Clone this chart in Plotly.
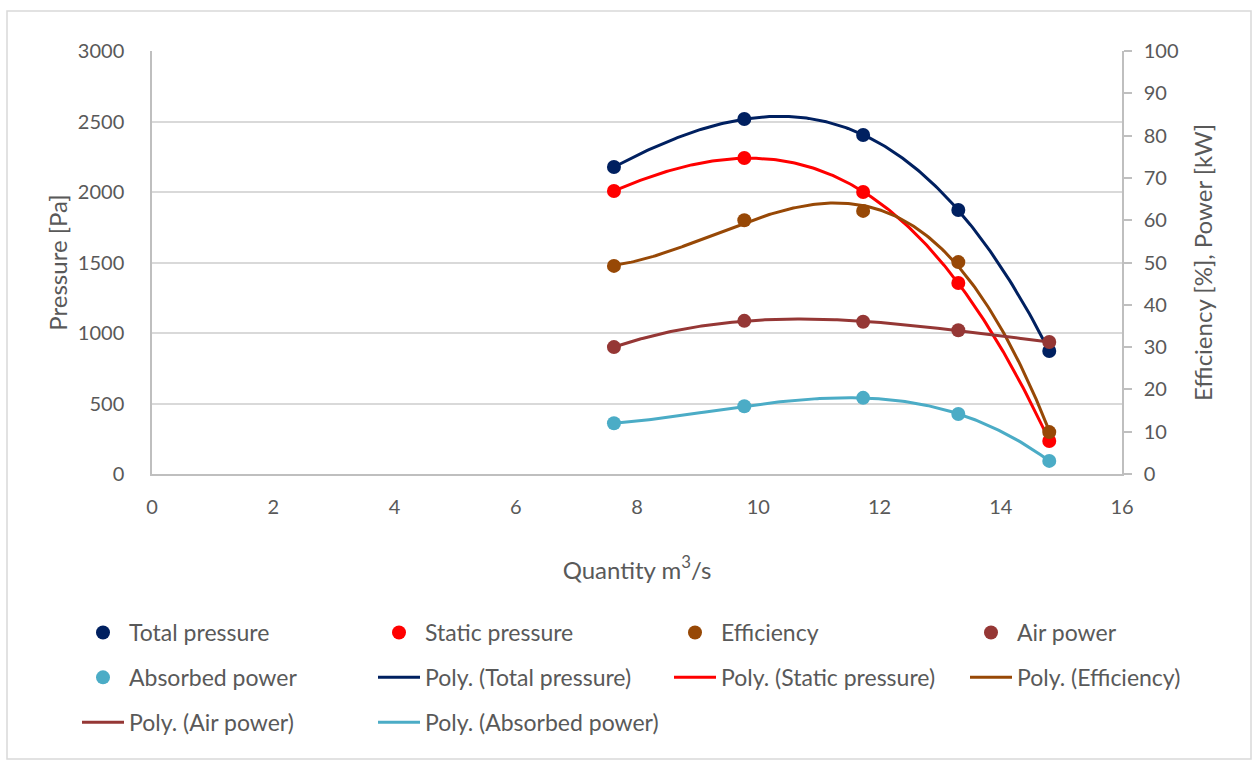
import numpy as np
import plotly.graph_objects as go

# Measured fan performance
quantity = [7.62, 9.77, 11.73, 13.30, 14.80]          # m3/s
total_pressure = [2177, 2518, 2404, 1872, 872]        # Pa
static_pressure = [2007, 2241, 2000, 1355, 234]       # Pa
efficiency = [49.2, 60.0, 62.2, 50.1, 9.9]            # %
air_power = [30.0, 36.2, 36.0, 34.0, 31.2]            # kW
absorbed_power = [12.0, 16.0, 18.0, 14.2, 3.1]        # kW

x_ticks = list(range(0, 17, 2))
pressure_ticks = list(range(0, 3001, 500))
right_ticks = list(range(0, 101, 10))

FONT = "Lato"
TXT = "#595959"
FS_TICK = 20
FS_TITLE = 24
FS_LEG = 23

series = [
    # name, values, colour, axis, legend for markers, legend for trendline
    ("Total pressure", total_pressure, "#002060", "y", "legend", "legend2"),
    ("Static pressure", static_pressure, "#FF0000", "y", "legend2", "legend3"),
    ("Efficiency", efficiency, "#974806", "y2", "legend3", "legend4"),
    ("Air power", air_power, "#953735", "y2", "legend4", "legend"),
    ("Absorbed power", absorbed_power, "#4BACC6", "y2", "legend", "legend2"),
]
marker_rank = {"Total pressure": 1, "Static pressure": 1, "Efficiency": 1,
               "Air power": 1, "Absorbed power": 2}
line_rank = {"Total pressure": 2, "Static pressure": 2, "Efficiency": 2,
             "Air power": 3, "Absorbed power": 3}

fig = go.Figure()
xq = np.array(quantity, dtype=float)
xs = np.linspace(xq.min(), xq.max(), 200)

# polynomial (order 3) trendlines
for name, vals, col, ax, lg_m, lg_l in series:
    coef = np.polyfit(xq, np.array(vals, dtype=float), 3)
    fig.add_trace(go.Scatter(
        x=xs, y=np.polyval(coef, xs), mode="lines", yaxis=ax,
        name=f"Poly. ({name})", line=dict(color=col, width=3),
        legend=lg_l, legendrank=line_rank[name], legendgroup="p_" + name,
        hoverinfo="skip"))

for name, vals, col, ax, lg_m, lg_l in series:
    fig.add_trace(go.Scatter(
        x=quantity, y=vals, mode="markers", yaxis=ax, name=name,
        marker=dict(color=col, size=14),
        legend=lg_m, legendrank=marker_rank[name], legendgroup="m_" + name))

L, R, T, B = 152, 131, 51, 286
W, H = 1253, 760
pw, ph = W - L - R, H - T - B


def px_x(p):
    return (p - L) / pw


def px_y(p):
    return (H - B - p) / ph


legend_common = dict(
    orientation="v", xanchor="left", yanchor="top",
    font=dict(family=FONT, size=FS_LEG, color=TXT),
    bgcolor="rgba(0,0,0,0)", tracegroupgap=12, itemwidth=42,
)
leg_y = px_y(611)
fig.update_layout(
    legend=dict(x=px_x(77), y=leg_y, **legend_common),
    legend2=dict(x=px_x(373), y=leg_y, **legend_common),
    legend3=dict(x=px_x(669), y=leg_y, **legend_common),
    legend4=dict(x=px_x(965), y=leg_y, **legend_common),
)

fig.update_layout(
    width=W, height=H,
    margin=dict(l=L, r=R, t=T, b=B, pad=0),
    paper_bgcolor="white", plot_bgcolor="white",
    font=dict(family=FONT, size=FS_TICK, color=TXT),
    showlegend=True,
    xaxis=dict(
        range=[0, 16], tickvals=x_ticks, ticktext=[str(v) for v in x_ticks],
        showgrid=False, zeroline=False, showline=True, linecolor="#BFBFBF",
        linewidth=1.5, ticks="", ticklabelstandoff=14,
        title=dict(text="Quantity m<sup>3</sup>/s", standoff=45,
                   font=dict(family=FONT, size=FS_TITLE, color=TXT)),
        tickfont=dict(family=FONT, size=FS_TICK, color=TXT),
    ),
    yaxis=dict(
        range=[0, 3000], tickvals=pressure_ticks,
        ticktext=[str(v) for v in pressure_ticks],
        showgrid=True, gridcolor="#D9D9D9", gridwidth=1.5, zeroline=False,
        showline=True, linecolor="#BFBFBF", linewidth=1.5, ticks="",
        ticklabelstandoff=22,
        title=dict(text="Pressure [Pa]", standoff=3,
                   font=dict(family=FONT, size=FS_TITLE, color=TXT)),
        tickfont=dict(family=FONT, size=FS_TICK, color=TXT),
    ),
    yaxis2=dict(
        range=[0, 100], tickvals=right_ticks,
        ticktext=[str(v) for v in right_ticks],
        overlaying="y", side="right", showgrid=False, zeroline=False,
        showline=True, linecolor="#BFBFBF", linewidth=1.5,
        ticks="outside", ticklen=8, tickcolor="#BFBFBF", tickwidth=1.5,
        ticklabelstandoff=8,
        title=dict(text="Efficiency [%], Power [kW]", standoff=18,
                   font=dict(family=FONT, size=FS_TITLE, color=TXT)),
        tickfont=dict(family=FONT, size=FS_TICK, color=TXT),
    ),
    shapes=[dict(type="rect", xref="paper", yref="paper",
                 x0=px_x(7), x1=px_x(1251), y0=px_y(759), y1=px_y(11),
                 line=dict(color="#D9D9D9", width=1.5), layer="below")],
)

fig.write_html("out.html")
